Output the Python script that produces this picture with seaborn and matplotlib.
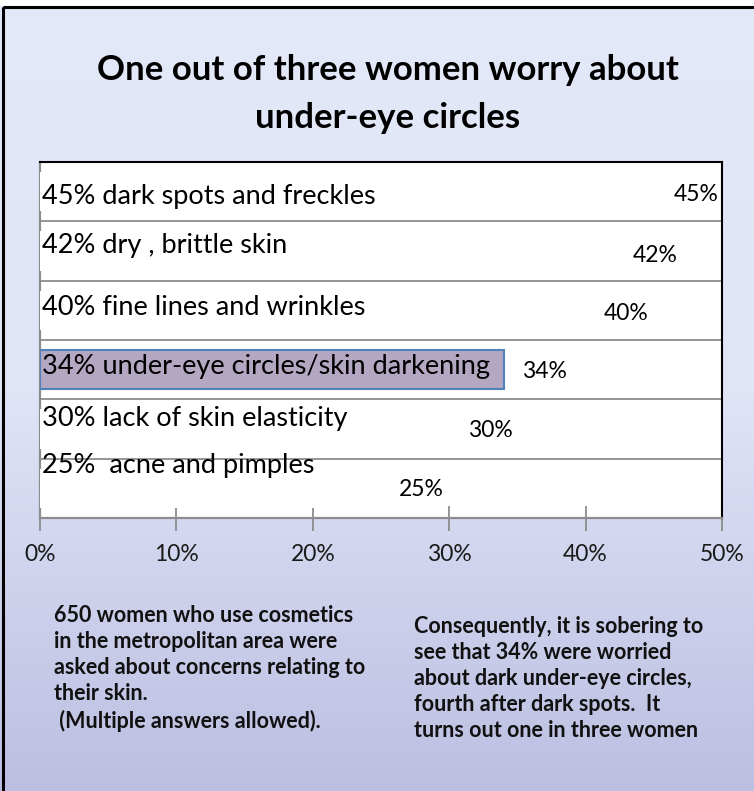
import numpy as np
import pandas as pd
import matplotlib
matplotlib.use("Agg")
import matplotlib.pyplot as plt
from matplotlib.colors import LinearSegmentedColormap
from matplotlib.patches import Rectangle
import seaborn as sns

# ---------------- data ----------------
categories = [
    "45% dark spots and freckles",
    "42% dry , brittle skin",
    "40% fine lines and wrinkles",
    "34% under-eye circles/skin darkening",
    "30% lack of skin elasticity",
    "25%  acne and pimples",
]
values = [45, 42, 40, 34, 30, 25]
value_labels = ["45%", "42%", "40%", "34%", "30%", "25%"]
highlight = "34% under-eye circles/skin darkening"
x_ticks = [0, 10, 20, 30, 40, 50]
x_tick_labels = ["0%", "10%", "20%", "30%", "40%", "50%"]
title = "One out of three women worry about\nunder-eye circles"
note_left = ("650 women who use cosmetics\nin the metropolitan area were\n"
             "asked about concerns relating to\ntheir skin.\n (Multiple answers allowed).")
note_right = ("Consequently, it is sobering to\nsee that 34% were worried\n"
              "about dark under-eye circles,\nfourth after dark spots.  It\n"
              "turns out one in three women")

df = pd.DataFrame({"category": categories, "value": values})

# ---------------- style ----------------
sns.set_theme(style="white")
FONT = ["Lato", "DejaVu Sans"]
plt.rcParams["font.family"] = FONT

W, H = 754, 791
fig = plt.figure(figsize=(W / 100, H / 100), dpi=100)

# background gradient
bg = fig.add_axes([0, 0, 1, 1], zorder=-10)
cmap = LinearSegmentedColormap.from_list("bg", ["#e4e9f9", "#dfe4f7", "#bcbfe1"])
grad = np.linspace(0, 1, 256).reshape(-1, 1)
bg.imshow(grad, aspect="auto", cmap=cmap, extent=[0, W, H, 0])
bg.set_xlim(0, W)
bg.set_ylim(H, 0)
bg.axis("off")
bg.add_patch(Rectangle((0, 0), W, 6, facecolor="white", edgecolor="none"))
bg.add_patch(Rectangle((2.5, 7), W + 20, H + 20, facecolor="none",
                       edgecolor="black", linewidth=2.2))

# main axes
L, R, T, B = 40, 722, 162, 518
ax = fig.add_axes([L / W, 1 - B / H, (R - L) / W, (B - T) / H])
ax.set_facecolor("white")

bar_colors = {c: ("#b3a2c7" if c == highlight else "white") for c in categories}
sns.barplot(data=df, x="value", y="category", hue="category", palette=bar_colors,
            orient="h", width=0.66, legend=False, ax=ax, zorder=3)
for patch, cat in zip(ax.patches, categories):
    if cat == highlight:
        patch.set_edgecolor("#4f81bd")
        patch.set_linewidth(1.5)
    else:
        patch.set_edgecolor("none")

ax.set_xlim(0, 50)
ax.set_ylim(len(categories) - 0.5, -0.5)
ax.set_xlabel("")
ax.set_ylabel("")
ax.set_yticks([])
ax.set_yticks(np.arange(len(categories) - 1) + 0.5, minor=True)
ax.grid(True, axis="y", which="minor", color="#8c8c8c", linewidth=1.3, zorder=1)
ax.tick_params(axis="y", which="both", left=False, labelleft=False)

ax.set_xticks(x_ticks)
ax.set_xticklabels(x_tick_labels, fontsize=16.5, color="#1a1a1a")
ax.tick_params(axis="x", direction="inout", length=18, width=1.3, color="#8c8c8c",
               pad=9.5, bottom=True)

for side in ["top", "right"]:
    ax.spines[side].set_color("black")
    ax.spines[side].set_linewidth(1.5)
for side in ["left", "bottom"]:
    ax.spines[side].set_color("#8c8c8c")
    ax.spines[side].set_linewidth(1.6)

# category labels (text inside plot)
cat_dy = [-5, 6, 3, 3, 11, 23]   # pixel offsets (up positive)
for i, (cat, dy) in enumerate(zip(categories, cat_dy)):
    ax.annotate(cat, xy=(0, i), xytext=(2, dy), textcoords="offset pixels",
                ha="left", va="center", fontsize=19.5, color="black", zorder=5)

# value labels
val_dx = [42, 42, 41, 41, 41, 40]
val_dy = [-3, -4, -3, -2, -1, -1]
for i, (v, lab, dx, dy) in enumerate(zip(values, value_labels, val_dx, val_dy)):
    ax.annotate(lab, xy=(v, i), xytext=(dx, dy), textcoords="offset pixels",
                ha="center", va="center", fontsize=16.5, color="black", zorder=5)

# title
fig.text(388 / W, 1 - 94 / H, title, ha="center", va="center", fontsize=25,
         fontweight="bold", linespacing=1.62, color="black")

# notes
fig.text(54 / W, 1 - 668.5 / H, note_left, ha="left", va="center", fontsize=15.5,
         fontweight="bold", linespacing=1.30, color="#111111")
fig.text(414 / W, 1 - 678.5 / H, note_right, ha="left", va="center", fontsize=15.5,
         fontweight="bold", linespacing=1.30, color="#111111")

fig.savefig("out.png", dpi=100)
